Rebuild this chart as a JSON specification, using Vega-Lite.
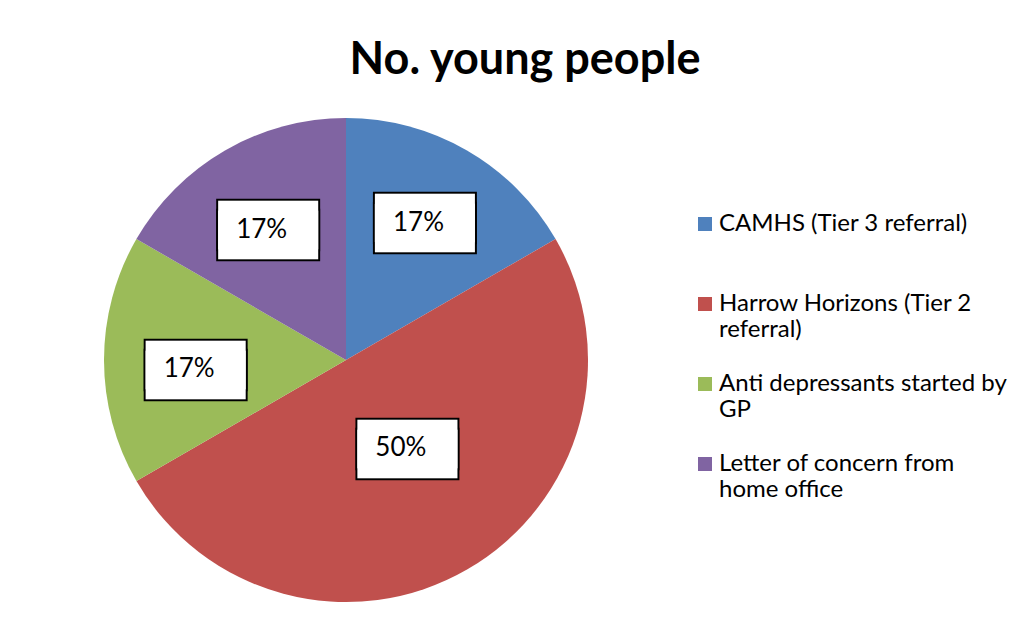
{
  "$schema": "https://vega.github.io/schema/vega-lite/v6.json",
  "width": 500,
  "height": 500,
  "autosize": {"type": "none"},
  "padding": {"left": 96, "top": 110, "right": 440, "bottom": 20},
  "background": "white",
  "title": {
    "text": "No. young people",
    "font": "Lato",
    "fontSize": 45,
    "fontWeight": "bold",
    "color": "black",
    "anchor": "middle",
    "dx": 179,
    "baseline": "alphabetic",
    "offset": -9
  },
  "data": {
    "values": [
      {"category": "CAMHS (Tier 3 referral)", "share": 0.1667, "rank": 1},
      {"category": "Harrow Horizons (Tier 2 referral)", "share": 0.5, "rank": 2},
      {"category": "Anti depressants started by GP", "share": 0.1667, "rank": 3},
      {"category": "Letter of concern from home office", "share": 0.1667, "rank": 4}
    ]
  },
  "encoding": {
    "order": {"field": "rank", "type": "quantitative"},
    "color": {
      "field": "category",
      "type": "nominal",
      "sort": ["CAMHS (Tier 3 referral)", "Harrow Horizons (Tier 2 referral)", "Anti depressants started by GP", "Letter of concern from home office"],
      "scale": {
        "domain": ["CAMHS (Tier 3 referral)", "Harrow Horizons (Tier 2 referral)", "Anti depressants started by GP", "Letter of concern from home office"],
        "range": ["#4F81BD", "#C0504D", "#9BBB59", "#8064A2"]
      },
      "legend": {
        "title": null,
        "orient": "none",
        "legendX": 597,
        "legendY": 102,
        "padding": 0,
        "symbolType": "square",
        "symbolSize": 196,
        "symbolStrokeWidth": 0,
        "labelFont": "Lato",
        "labelFontSize": 24,
        "labelColor": "black",
        "labelOffset": 2,
        "labelLimit": 400,
        "rowPadding": 30,
        "labelExpr": "datum.label == 'Harrow Horizons (Tier 2 referral)' ? ['Harrow Horizons (Tier 2', 'referral)'] : datum.label == 'Anti depressants started by GP' ? ['Anti depressants started by', 'GP'] : datum.label == 'Letter of concern from home office' ? ['Letter of concern from', 'home office'] : [datum.label, ' ']"
      }
    }
  },
  "resolve": {"scale": {"theta": "independent"}},
  "layer": [
    {
      "mark": {"type": "arc", "outerRadius": 242, "stroke": null},
      "encoding": {"theta": {"field": "share", "type": "quantitative", "stack": true}}
    },
    {
      "layer": [
        {
          "mark": {"type": "text", "text": "▬", "font": "DejaVu Sans", "fontSize": 131, "fill": "white", "stroke": "black", "strokeWidth": 4, "baseline": "middle", "align": "center", "dx": 6.5, "dy": -7.3, "radius": {"expr": "datum.share >= 0.5 ? 102 : 157"}},
          "encoding": {"color": {"value": "white"}}
        },
        {
          "mark": {"type": "text", "text": "▬", "font": "DejaVu Sans", "fontSize": 131, "fill": "white", "stroke": "black", "strokeWidth": 4, "baseline": "middle", "align": "center", "dx": 6.5, "dy": 2.7, "radius": {"expr": "datum.share >= 0.5 ? 102 : 157"}},
          "encoding": {"color": {"value": "white"}}
        },
        {
          "mark": {"type": "text", "text": "▬", "font": "DejaVu Sans", "fontSize": 131, "fill": "white", "baseline": "middle", "align": "center", "dx": 6.5, "dy": -7.3, "radius": {"expr": "datum.share >= 0.5 ? 102 : 157"}},
          "encoding": {"color": {"value": "white"}}
        },
        {
          "mark": {"type": "text", "text": "▬", "font": "DejaVu Sans", "fontSize": 131, "fill": "white", "baseline": "middle", "align": "center", "dx": 6.5, "dy": 2.7, "radius": {"expr": "datum.share >= 0.5 ? 102 : 157"}},
          "encoding": {"color": {"value": "white"}}
        },
        {
          "mark": {"type": "text", "font": "Lato", "fontSize": 26, "baseline": "middle", "align": "center", "dy": 2, "radius": {"expr": "datum.share >= 0.5 ? 102 : 157"}},
          "encoding": {
            "text": {"field": "share", "type": "quantitative", "format": ".0%"},
            "color": {"value": "black"}
          }
        }
      ],
      "encoding": {
        "theta": {"field": "share", "type": "quantitative", "stack": true, "scale": {"range": [-0.04363, 6.23955]}}
      }
    }
  ],
  "config": {"view": {"stroke": null}}
}
